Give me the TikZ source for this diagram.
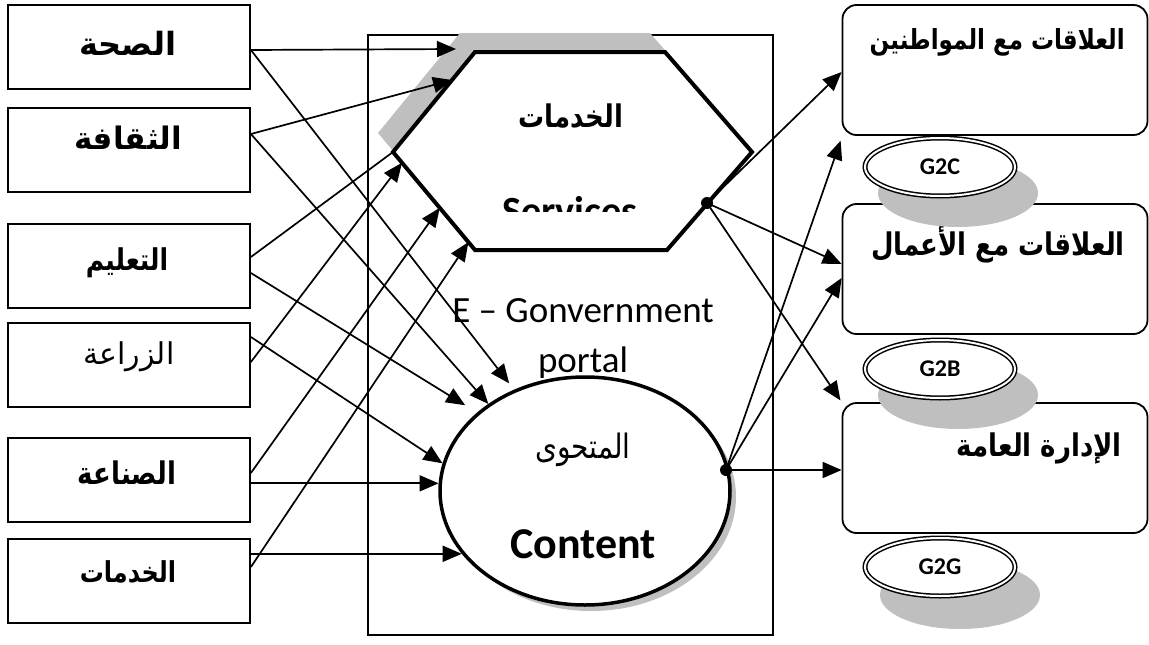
\documentclass[tikz,border=0pt]{standalone}
\usepackage{fontspec}
\usepackage{graphicx}
\usetikzlibrary{arrows.meta,calc,shapes.geometric}
\TeXXeTstate=1
\newfontfamily\arabicfont[Script=Arabic]{DejaVu Sans}
\newfontfamily\calfont{Carlito}
\newcommand{\artxt}[1]{{\arabicfont\beginR #1\endR}}
\newcommand{\artxtv}[1]{\scalebox{1}[1.2]{\artxt{#1}}}
\begin{document}
\begin{tikzpicture}[x=1pt,y=-1pt,
  lbox/.style={draw, line width=1.8pt, minimum width=242pt, minimum height=84pt, inner sep=0pt},
  rbox/.style={draw, line width=1.8pt, rounded corners=14pt, minimum width=305pt, minimum height=130pt, inner sep=0pt},
  artext/.style={font=\arabicfont\bfseries\fontsize{26}{30}\selectfont, inner sep=0pt},
  artextr/.style={font=\arabicfont\fontsize{26}{30}\selectfont, inner sep=0pt},
  entext/.style={font=\calfont\fontsize{37}{40}\selectfont, inner sep=0pt, anchor=base},
  oval/.style={ellipse, draw, double=white, double distance=2pt, line width=1.5pt, fill=white,
    minimum width=150pt, minimum height=58pt, inner sep=0pt, font=\calfont\bfseries\fontsize{24}{26}\selectfont},
  shade/.style={fill=gray!50},
  arr/.style={line width=1.7pt, -{Triangle[length=19pt,width=16pt]}},
  dot/.style={circle, fill=black, inner sep=0pt, minimum size=12pt}]
\useasboundingbox (0,0) rectangle (1149,645);
% portal frame
\node[draw, line width=1.1pt, minimum width=405pt, minimum height=600pt, inner sep=0pt] (portal) at (570.5,335) {};
% hexagon
\coordinate (hA) at (475,52);
\coordinate (hB) at (665,52);
\coordinate (hC) at (752,152);
\coordinate (hD) at (667,250);
\coordinate (hE) at (475,250);
\coordinate (hF) at (393,152);
\fill[shade] ($(hA)+(-15,-19)$) -- ($(hB)+(-15,-19)$) -- ($(hC)+(-15,-19)$) -- ($(hD)+(-15,-19)$) -- ($(hE)+(-15,-19)$) -- ($(hF)+(-15,-19)$) -- cycle;
\draw[line width=4pt, fill=white, line join=miter] (hA) -- (hB) -- (hC) -- (hD) -- (hE) -- (hF) -- cycle;
\node[artext] (hexar) at (571,116) {\artxtv{الخدمات}};
\begin{scope}
\clip (480,150) rectangle (660,211);
\node[font=\calfont\bfseries\fontsize{40}{44}\selectfont, inner sep=0pt, anchor=base] (hexen) at (570,224) {Services};
\end{scope}
% portal texts
\node[entext] (egov) at (583,322) {E – Gonvernment};
\node[entext] (ptl) at (583,372) {portal};
% ellipse
\fill[shade] (591,497) ellipse [x radius=145pt, y radius=114pt];
\node[ellipse, draw, line width=3.5pt, fill=white, minimum width=290pt, minimum height=228pt, inner sep=0pt] (ell) at (585,491) {};
\node[artextr, font=\arabicfont\fontsize{28}{30}\selectfont] (ellar) at (583,450) {\artxtv{المتحوى}};
\node[font=\calfont\bfseries\fontsize{44}{48}\selectfont, inner sep=0pt, anchor=base] (ellen) at (583,558) {Content};
% left boxes
\node[lbox] (b1) at (129,47) {};
\node[lbox] (b2) at (129,150) {};
\node[lbox] (b3) at (129,266) {};
\node[lbox] (b4) at (129,365) {};
\node[lbox] (b5) at (129,480) {};
\node[lbox] (b6) at (129,581) {};
\node[artext, font=\arabicfont\bfseries\fontsize{32}{36}\selectfont] (t1) at (128,43) {\artxt{الصحة}};
\node[artext, font=\arabicfont\bfseries\fontsize{31}{36}\selectfont] (t2) at (128,138) {\artxt{الثقافة}};
\node[artext, font=\arabicfont\bfseries\fontsize{25}{30}\selectfont] (t3) at (127,263) {\artxtv{التعليم}};
\node[artextr, font=\arabicfont\fontsize{30}{34}\selectfont] (t4) at (129,357) {\artxt{الزراعة}};
\node[artext] (t5) at (127,473) {\artxtv{الصناعة}};
\node[artext, font=\arabicfont\bfseries\fontsize{24}{30}\selectfont] (t6) at (128,572) {\artxtv{الخدمات}};
% right boxes
\node[rbox] (r1) at (995,70) {};
\node[rbox] (r2) at (995,269) {};
\node[rbox] (r3) at (995,468) {};
\node[artext, anchor=east, font=\arabicfont\bfseries\fontsize{23}{28}\selectfont] (rt1) at (1125,42) {\artxtv{العلاقات مع المواطنين}};
\node[artext, anchor=east] (rt2) at (1125,245) {\artxtv{العلاقات مع الأعمال}};
\node[artext, anchor=east] (rt3) at (1122,448) {\artxtv{الإدارة العامة}};
% G ovals
\fill[shade] (958,193) ellipse [x radius=80pt, y radius=34pt];
\fill[shade] (958,395) ellipse [x radius=80pt, y radius=34pt];
\fill[shade] (960,595) ellipse [x radius=80pt, y radius=34pt];
\node[oval] (g2c) at (940,167) {G2C};
\node[oval] (g2b) at (940,369) {G2B};
\node[oval] (g2g) at (940,567) {G2G};
% hexagon targets
\coordinate (h1) at (456,49);
\coordinate (h2) at ($(hF)!0.72!(hA)$);
\coordinate (h4) at ($(hF)!0.11!(hE)$);
\coordinate (h5) at ($(hF)!0.57!(hE)$);
\coordinate (h6) at ($(hF)!0.92!(hE)$);
% dots
\node[dot] (hdot) at (707,203) {};
\node[dot] (edot) at (726,470) {};
% left connectors to hexagon
\draw[arr] ([yshift=-3pt]b1.east) -- (h1);
\draw[arr] ([yshift=16pt]b2.east) -- (h2);
\draw[line width=1.7pt] ([yshift=9pt]b3.east) -- (hF);
\draw[arr] ([yshift=3pt]b4.east) -- (h4);
\draw[arr] ([yshift=7pt]b5.east) -- (h5);
\draw[arr] ([yshift=14pt]b6.east) -- (h6);
% left connectors to ellipse
\draw[arr, shorten >=8pt] ([yshift=-3pt]b1.east) -- (ell.125);
\draw[arr] ([yshift=16pt]b2.east) -- (ell.138);
\draw[arr, shorten >=14pt] ([yshift=-7pt]b3.east) -- (ell.144.5);
\draw[arr] ([yshift=28pt]b4.east) -- (ell.169.5);
\draw[arr] (ell.177 -| b5.east) -- (ell.177);
\draw[arr] (ell.207.5 -| b6.east) -- (ell.207.5);
% right connectors
\draw[arr] (hdot.center) -- ([yshift=-2pt]r1.west);
\draw[arr] (hdot.center) -- ([yshift=5pt]r2.west);
\draw[arr, shorten >=2pt] (hdot.center) -- (r3.north west);
\draw[arr, shorten >=3pt] (edot.center) -- ([yshift=-2pt]r1.south west);
\draw[arr] (edot.center) -- ([yshift=-9pt]r2.west);
\draw[arr] (edot.center) -- (edot -| r3.west);
\end{tikzpicture}
\end{document}
